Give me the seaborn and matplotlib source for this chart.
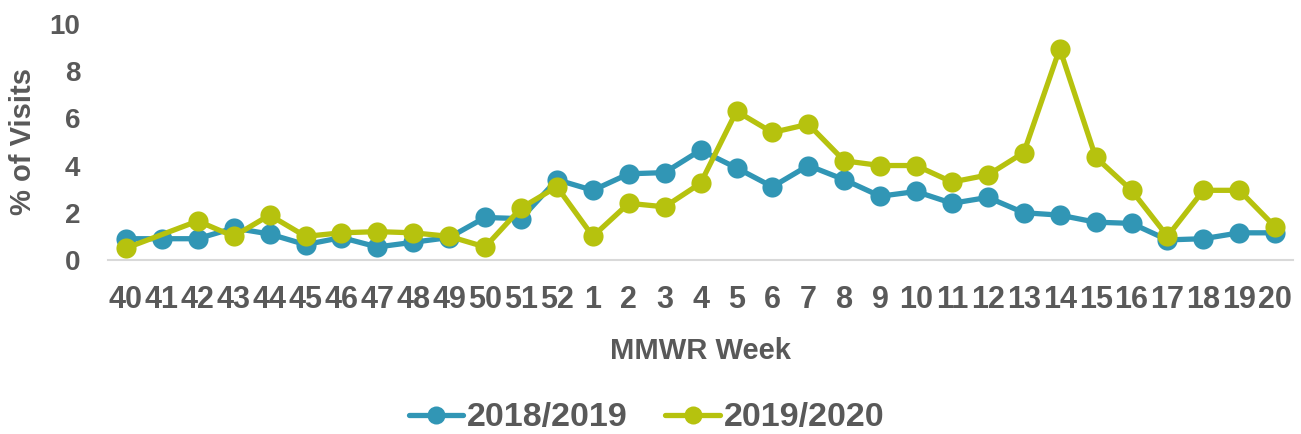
import numpy as np
import pandas as pd
import matplotlib
matplotlib.use("Agg")
import matplotlib.pyplot as plt
from matplotlib.lines import Line2D
import seaborn as sns

weeks = [str(w) for w in list(range(40, 53)) + list(range(1, 21))]

visits_2018_2019 = [0.9, 0.9, 0.9, 1.35, 1.1, 0.65, 0.95, 0.55, 0.75, 0.95, 1.8, 1.75,
                    3.4, 2.95, 3.65, 3.7, 4.65, 3.9, 3.1, 4.0, 3.4, 2.7, 2.9, 2.4,
                    2.65, 2.0, 1.9, 1.6, 1.55, 0.85, 0.9, 1.15, 1.15]
visits_2019_2020 = [0.5, np.nan, 1.65, 1.0, 1.9, 1.0, 1.15, 1.2, 1.15, 1.0, 0.55, 2.2,
                    3.1, 1.0, 2.4, 2.25, 3.25, 6.3, 5.4, 5.75, 4.2, 4.0, 4.0, 3.3,
                    3.6, 4.55, 8.95, 4.35, 2.95, 1.0, 2.95, 2.95, 1.4]

seasons = ["2018/2019", "2019/2020"]
colors = ["#3196B5", "#B6C20E"]
text_color = "#595959"

df = pd.concat([
    pd.DataFrame({"week": weeks, "pct": visits_2018_2019, "season": seasons[0]}),
    pd.DataFrame({"week": weeks, "pct": visits_2019_2020, "season": seasons[1]}),
]).dropna()

sns.set_theme(style="white")
plt.rcParams["font.family"] = ["Liberation Sans", "DejaVu Sans"]
plt.rcParams["font.weight"] = "bold"

fig = plt.figure(figsize=(13.01, 4.34), dpi=100)
ax = fig.add_axes([0.083, 0.401, 0.911, 0.544])

sns.lineplot(data=df, x="week", y="pct", hue="season", hue_order=seasons,
             palette=colors, marker="o", markersize=14.5, markeredgewidth=0,
             linewidth=3.8, sort=False, legend=False, ax=ax)

ax.set_xlim(-0.5, len(weeks) - 0.5)
ax.set_ylim(0, 10)
ax.set_yticks([0, 2, 4, 6, 8, 10])

for side in ["top", "right", "left"]:
    ax.spines[side].set_visible(False)
ax.spines["bottom"].set_color("#D9D9D9")
ax.spines["bottom"].set_linewidth(1.5)
ax.spines["bottom"].set_zorder(0)

ax.tick_params(axis="x", length=0, pad=18, labelsize=22, labelcolor=text_color)
ax.tick_params(axis="y", length=0, pad=20, labelsize=20, labelcolor=text_color)
for lbl in ax.get_xticklabels() + ax.get_yticklabels():
    lbl.set_fontweight("bold")

ax.set_xlabel("MMWR Week", fontsize=21, fontweight="bold", color=text_color, labelpad=16)
ax.set_ylabel("% of Visits", fontsize=21, fontweight="bold", color=text_color, labelpad=9)

handles = [Line2D([], [], color=c, linewidth=3.8, marker="o", markersize=13,
                  markeredgewidth=0) for c in colors]
fig.legend(handles, seasons, loc="center", bbox_to_anchor=(0.497, 0.037), ncol=2,
           frameon=False, handlelength=1.6, handletextpad=0.12, columnspacing=1.1,
           prop={"size": 24.5, "weight": "bold"}, labelcolor=text_color)

fig.savefig("out.png", dpi=100)
